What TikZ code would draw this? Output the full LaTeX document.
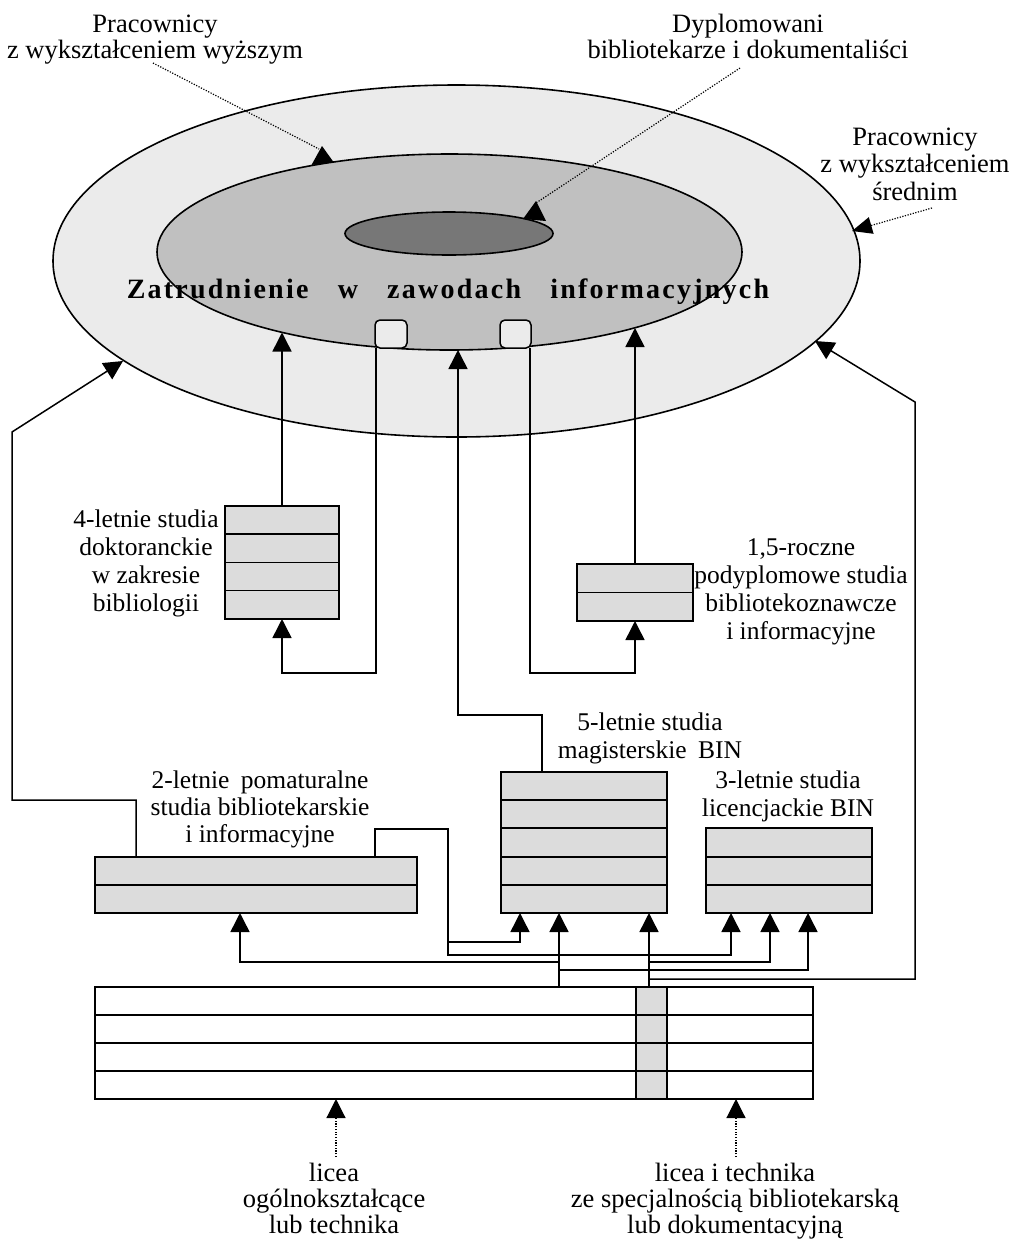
\documentclass[tikz,border=0pt]{standalone}
\usepackage{fontspec}
\setmainfont{Liberation Serif}
\newfontfamily\titlefont{Liberation Serif}[LetterSpace=8]
\usetikzlibrary{shapes.geometric,arrows.meta}
\definecolor{outerg}{HTML}{EBEBEB}
\definecolor{innerg}{HTML}{C0C0C0}
\definecolor{darkg}{HTML}{777777}
\definecolor{boxg}{HTML}{DCDCDC}
\newcommand{\lbl}[1]{\begin{tabular}[t]{@{}c@{}}#1\end{tabular}}
\begin{document}
\begin{tikzpicture}[x=1pt,y=-1pt,
  font=\fontsize{25.5}{28}\selectfont,
  wire/.style={line width=1.5pt},
  arr/.style={-{Triangle[length=19pt,width=19pt]}},
  dotl/.style={line width=1.2pt, dash pattern=on 1.2pt off 1.5pt},
  boxs/.style={draw, line width=1.6pt, fill=boxg, rectangle, inner sep=0pt, outer sep=0pt, anchor=north west},
  sbox/.style={draw, line width=1.5pt, fill=outerg, rounded corners=5pt, rectangle, inner sep=0pt, outer sep=0pt, anchor=north west, minimum height=28pt},
  lab/.style={anchor=base, inner sep=0pt},
  toplab/.style={anchor=base, inner sep=0pt, font=\fontsize{26.5}{26.5}\selectfont},
  botlab/.style={anchor=base, inner sep=0pt, font=\fontsize{26.5}{26}\selectfont},
  ell/.style={draw, line width=1.6pt, ellipse, inner sep=0pt, outer sep=0pt},
]
\useasboundingbox (0,0) rectangle (1010,1243);

% ellipses
\node[ell, fill=outerg, minimum width=807pt, minimum height=352pt] (outer) at (456.5,261) {};
\node[ell, fill=innerg, minimum width=585pt, minimum height=196pt] (inner) at (449.5,252) {};
\node[ell, fill=darkg, minimum width=208pt, minimum height=43pt] (core) at (449,233.5) {};

% title
\node[anchor=base, inner sep=0pt] (title) at (448,298)
  {\titlefont\bfseries\fontsize{28}{28}\selectfont Zatrudnienie\hspace{20pt} w\hspace{20pt} zawodach\hspace{20pt} informacyjnych};

% small rounded boxes
\node[sbox, minimum width=32pt] (sb1) at (375,320) {};
\node[sbox, minimum width=31pt] (sb2) at (500,320) {};

% top labels
\node[toplab] (lw) at (155,32) {\lbl{Pracownicy\\z wykształceniem wyższym}};
\node[toplab] (ld) at (748,32) {\lbl{Dyplomowani\\bibliotekarze i dokumentaliści}};
\node[lab, font=\fontsize{26.5}{27.5}\selectfont] (ls) at (915,145) {\lbl{Pracownicy\\z wykształceniem\\średnim}};

% callouts
\coordinate (cw) at (153,63);
\coordinate (cwt) at (319,149);
\draw[dotl] (cw) -- (cwt);
\fill (322,146) -- (311.5,165) -- (333.5,162) -- cycle;
\coordinate (cd) at (740,68);
\coordinate (cdt) at (536,203);
\draw[dotl] (cd) -- (cdt);
\fill (536,201) -- (523,219) -- (546,221) -- cycle;
\coordinate (cs) at (932,208);
\coordinate (cst) at (852,231);
\draw[dotl, -{Triangle[length=20pt,width=17pt]}] (cs) -- (cst);

% boxes
\node[boxs, minimum width=114pt, minimum height=113pt] (b4) at (225,506) {};
\foreach \y in {534,562.5,590.5} \draw[line width=1.6pt] (225,\y) -- (339,\y);
\node[boxs, minimum width=116pt, minimum height=57pt] (b15) at (577,564) {};
\draw[line width=1.6pt] (577,592.5) -- (693,592.5);
\node[boxs, minimum width=166pt, minimum height=141pt] (b5) at (501,772) {};
\foreach \y in {800,828,857,885} \draw[line width=1.6pt] (501,\y) -- (667,\y);
\node[boxs, minimum width=166pt, minimum height=85pt] (b3) at (706,828) {};
\foreach \y in {857,885} \draw[line width=1.6pt] (706,\y) -- (872,\y);
\node[boxs, minimum width=322pt, minimum height=56pt] (b2) at (95,857) {};
\draw[line width=1.6pt] (95,885) -- (417,885);

% bottom box
\fill[boxg] (636,987) rectangle (667,1099);
\node[draw, line width=1.6pt, rectangle, inner sep=0pt, outer sep=0pt, anchor=north west, minimum width=718pt, minimum height=112pt] (bb) at (95,987) {};
\foreach \y in {1015,1043,1071} \draw[line width=1.6pt] (95,\y) -- (813,\y);
\draw[line width=1.6pt] (636,987) -- (636,1099) (667,987) -- (667,1099);

% box labels
\node[lab] (l4) at (146,527) {\lbl{4-letnie studia\\doktoranckie\\w zakresie\\bibliologii}};
\node[lab] (l15) at (801,555) {\lbl{1,5-roczne\\podyplomowe studia\\bibliotekoznawcze\\i informacyjne}};
\node[lab] (l5) at (650,730) {\lbl{5-letnie studia\\magisterskie\hspace{5pt} BIN}};
\node[lab] (l3) at (788,788) {\lbl{3-letnie studia\\licencjackie BIN}};
\node[lab, font=\fontsize{25.5}{27}\selectfont] (l2) at (260,788) {\lbl{2-letnie\hspace{5pt} pomaturalne\\studia bibliotekarskie\\i informacyjne}};

% bottom labels
\node[botlab] (lb1) at (334,1181) {\lbl{licea\\ogólnokształcące\\lub technika}};
\node[botlab] (lb2) at (735,1181) {\lbl{licea i technika\\ze specjalnością bibliotekarską\\lub dokumentacyjną}};

% connectors into ellipses
\coordinate (t1) at (282,332.5);
\draw[wire,arr] (b4.north) -- (t1);
\draw[wire,arr] ([xshift=1pt]sb1.south west) -- ++(0,325) -| (b4.south);
\coordinate (t3) at (635,328);
\draw[wire,arr] (b15.north) -- (t3);
\draw[wire,arr] ([xshift=-1pt]sb2.south east) -- ++(0,325) -| (b15.south);
\coordinate (t5) at (458,350);
\draw[wire,arr] ([xshift=41pt]b5.north west) -- ++(0,-57) -| (t5);
\coordinate (k6) at (12,432);
\coordinate (t6) at (123,361);
\draw[wire,arr] ([xshift=41pt]b2.north west) -- ++(0,-57) -| (k6) -- (t6);

% 2-letnie onwards
\coordinate (j7a) at (448,955);
\coordinate (j7b) at (448,942);
\draw[wire,arr] ([xshift=280pt]b2.north west) -- ++(0,-28) -| (j7a) -| ([xshift=25pt]b3.south west);
\draw[wire,arr] (j7b) -| ([xshift=19pt]b5.south west);

% trunks from bottom box
\coordinate (p1) at (559,987);
\coordinate (p2) at (649,987);
\draw[wire,arr] (p1) -- (p1 |- b5.south);
\draw[wire,arr] (p2) -- (p2 |- b5.south);
\coordinate (j8a) at (559,962);
\coordinate (j8b) at (559,970);
\draw[wire,arr] (j8a) -| ([xshift=145pt]b2.south west);
\draw[wire,arr] (j8b) -| ([xshift=102pt]b3.south west);
\coordinate (j9a) at (649,962);
\coordinate (j9b) at (649,979);
\coordinate (k9) at (915,402);
\coordinate (t9) at (815,341);
\draw[wire,arr] (j9a) -| ([xshift=64pt]b3.south west);
\draw[wire,arr] (j9b) -| (k9) -- (t9);

% bottom dotted arrows
\coordinate (d1) at (336,1157);
\coordinate (d2) at (736,1157);
\draw[dotl,arr] (d1) -- (d1 |- bb.south);
\draw[dotl,arr] (d2) -- (d2 |- bb.south);
\end{tikzpicture}
\end{document}
